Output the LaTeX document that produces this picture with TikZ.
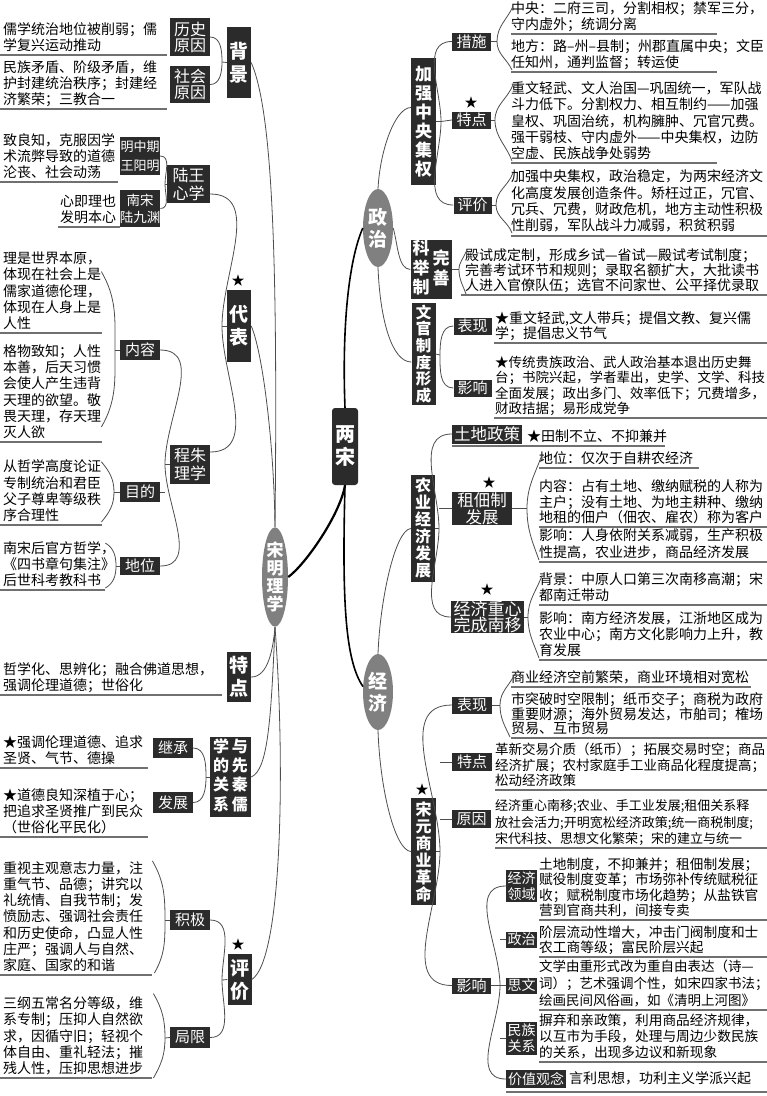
\documentclass[tikz,border=0pt]{standalone}
\usepackage{fontspec}
\setmainfont{Noto Sans CJK SC}
\usepackage{tikz}
\usetikzlibrary{shapes.geometric,positioning}
\definecolor{tagfill}{HTML}{2B2B2B}
\definecolor{ovalfill}{HTML}{808080}
\definecolor{wirecol}{HTML}{4D4D4D}
\definecolor{rulecol}{HTML}{707070}

\begin{document}
\begin{tikzpicture}[x=1pt,y=1pt,
		blk/.style={fill=tagfill, text=white, inner sep=0pt, align=center, font=\fontsize{15}{16}\selectfont},
		bigblk/.style={blk, font=\bfseries\fontsize{19}{23}\selectfont},
		tallblk/.style={blk, font=\bfseries\fontsize{16}{17}\selectfont},
		oval/.style={ellipse, fill=ovalfill, text=white, inner sep=0pt, align=center, font=\bfseries\fontsize{19}{22}\selectfont},
		leaf/.style={anchor=south west, inner sep=0pt, align=left, text depth=4pt, font=\fontsize{14}{16.3}\selectfont},
		starsym/.style={inner sep=0pt, font=\fontsize{13}{13}\selectfont},
		wire/.style={draw=wirecol, line width=.8pt},
		trunk/.style={draw=black, line width=1.6pt},
		uline/.style={draw=rulecol, line width=1.1pt}]
	\useasboundingbox (0,0) rectangle (767,-1096);

	% centre
	\node[blk, rounded corners=3pt, minimum width=26, minimum height=77, font=\bfseries\fontsize{20}{23}\selectfont] at (345,-446.5) (ls) {两\\宋};
	\node[oval, minimum width=30, minimum height=78] at (378,-228) (zz) {政\\治};
	\node[oval, minimum width=30, minimum height=76] at (378,-692) (jj) {经\\济};
	\node[oval, minimum width=26, minimum height=98, font=\bfseries\fontsize{17}{18}\selectfont] at (275,-577) (sm) {宋\\明\\理\\学};

	\draw[trunk] (ls.north) .. controls (342,-330) and (348,-262) .. (zz.west);
	\draw[trunk] (ls.south) .. controls (342,-600) and (345,-660) .. (jj.160);
	\draw[trunk, line width=2.2pt] (ls.south) .. controls (340,-515) and (305,-565) .. (sm.east);

	% song ming lixue
	\node[bigblk, minimum width=24, minimum height=71] at (239,-62.5) (bj) {背\\景};
	\node[blk, minimum width=40, minimum height=38, font=\fontsize{16}{16}\selectfont] at (190,-37) (lsyy) {历史\\原因};
	\node[blk, minimum width=40, minimum height=37, font=\fontsize{16}{16}\selectfont] at (190,-84.5) (shyy) {社会\\原因};
	\coordinate (bjj) at (222,-62);
	\node[leaf] at (3,-55) (lf-ls) {儒学统治地位被削弱；儒\\学复兴运动推动};
	\node[leaf] at (3,-109) (lf-sh) {民族矛盾、阶级矛盾，维\\护封建统治秩序；封建经\\济繁荣；三教合一};

	\node[bigblk, minimum width=24, minimum height=72] at (239,-326) (db) {代\\表};
	\node[starsym] at (238,-281) (st1) {★};
	\node[blk, minimum width=43, minimum height=38, font=\fontsize{16}{18}\selectfont] at (188.5,-184) (lw) {陆王\\心学};
	\node[blk, minimum width=40, minimum height=39, font=\fontsize{16}{18}\selectfont] at (190,-464) (cz) {程朱\\理学};
	\coordinate (dbj) at (222,-326);
	\node[blk, minimum width=40, minimum height=38, font=\fontsize{13}{19}\selectfont] at (140,-156) (wym) {明中期\\王阳明};
	\node[blk, minimum width=40, minimum height=37, font=\fontsize{13.5}{17}\selectfont] at (140,-208.5) (ljy) {南宋\\陆九渊};
	\coordinate (lwj) at (165,-184);
	\node[leaf] at (3,-182) (lf-wym) {致良知，克服因学\\术流弊导致的道德\\沦丧、社会动荡};
	\node[leaf] at (60,-227) (lf-ljy) {心即理也\\发明本心};

	\node[blk, minimum width=40, minimum height=20] at (140,-350) (nr) {内容};
	\node[blk, minimum width=40, minimum height=20] at (140,-492) (md) {目的};
	\node[blk, minimum width=40, minimum height=18] at (140,-566) (dw) {地位};
	\coordinate (czj) at (165,-464);
	\node[leaf] at (3,-333) (lf-nr1) {理是世界本原，\\体现在社会上是\\儒家道德伦理，\\体现在人身上是\\人性};
	\node[leaf] at (3,-442) (lf-nr2) {格物致知；人性\\本善，后天习惯\\会使人产生违背\\天理的欲望。敬\\畏天理，存天理\\灭人欲};
	\node[leaf] at (3,-525) (lf-md) {从哲学高度论证\\专制统治和君臣\\父子尊卑等级秩\\序合理性};
	\node[leaf] at (3,-590) (lf-dw) {南宋后官方哲学，\\《四书章句集注》\\后世科考教科书};
	\coordinate (nrj) at (115,-350);
	\coordinate (mdj) at (114,-492);
	\coordinate (dwj) at (116,-566);

	\node[bigblk, minimum width=24, minimum height=50] at (239,-677) (td) {特\\点};
	\node[leaf] at (3,-695) (lf-td) {哲学化、思辨化；融合佛道思想，\\强调伦理道德；世俗化};

	\node[blk, minimum width=41, minimum height=80, font=\bfseries\fontsize{16}{18.5}\selectfont] at (230.5,-777) (gx)
		{\begin{tabular}{@{}c@{\hspace{3pt}}c@{}}学&与\\的&先\\关&秦\\系&儒\end{tabular}};
	\node[blk, minimum width=40, minimum height=20] at (173,-748) (jc) {继承};
	\node[blk, minimum width=40, minimum height=21] at (173,-802.5) (fz) {发展};
	\coordinate (gxj) at (206,-777);
	\node[leaf] at (3,-768) (lf-jc) {★强调伦理道德、追求\\圣贤、气节、德操};
	\node[leaf] at (3,-837) (lf-fz) {★道德良知深植于心；\\把追求圣贤推广到民众\\（世俗化平民化）};

	\node[bigblk, minimum width=24, minimum height=51] at (239.5,-979.5) (pj) {评\\价};
	\node[starsym] at (238,-945) (st2) {★};
	\node[blk, minimum width=40, minimum height=20] at (190,-920) (jjx) {积极};
	\node[blk, minimum width=40, minimum height=21] at (190,-1037.5) (jx) {局限};
	\coordinate (pjj) at (222,-980);
	\node[leaf] at (3,-975) (lf-jjx) {重视主观意志力量，注\\重气节、品德；讲究以\\礼统情、自我节制；发\\愤励志、强调社会责任\\和历史使命，凸显人性\\庄严；强调人与自然、\\家庭、国家的和谐};
	\node[leaf] at (3,-1078) (lf-jx) {三纲五常名分等级，维\\系专制；压抑人自然欲\\求，因循守旧；轻视个\\体自由、重礼轻法；摧\\残人性，压抑思想进步};
	\coordinate (jjxj) at (165,-920);
	\coordinate (jxj) at (165,-1038);

	\draw[wire] (sm.north) .. controls (278,-250) and (272,-110) .. (bj.east);
	\draw[wire] (sm.north) .. controls (274,-440) and (262,-350) .. (db.east);
	\draw[wire] (sm.south) .. controls (273,-650) and (268,-677) .. (td.east);
	\draw[wire] (sm.south) .. controls (271,-720) and (268,-770) .. (gx.east);
	\draw[wire] (sm.south) .. controls (285,-760) and (283,-960) .. (pj.east);

	\draw[wire] (lsyy.east) to[out=0,in=90] (bjj) to[out=-90,in=0] (shyy.east);
	\draw[wire] (bjj) -- (bj.west);
	\draw[wire] ([yshift=-10pt]lw.east) to[out=0,in=90] (dbj) to[out=-90,in=0] ([yshift=12pt]cz.east);
	\draw[wire] (dbj) -- (db.west);
	\draw[wire] (wym.east) to[out=0,in=90] (lwj) to[out=-90,in=0] (ljy.east);
	\draw[wire] (lwj) -- (lw.west);
	\draw[wire] (nr.east) to[out=0,in=90] (czj) to[out=-90,in=0] (dw.east);
	\draw[wire] (md.east) -- (md.east -| czj);
	\draw[wire] (czj) -- (cz.west);
	\draw[wire] ([yshift=-20pt]lf-nr1.north east) to[out=-60,in=90] (nrj) to[out=-90,in=60] ([yshift=15pt]lf-nr2.south east);
	\draw[wire] (nrj) -- (nr.west);
	\draw[wire] ([yshift=-2pt]lf-md.north east) to[out=-50,in=90] (mdj) to[out=-90,in=50] ([yshift=3pt]lf-md.south east);
	\draw[wire] (mdj) -- (md.west);
	\draw[wire] ([shift={(-10pt,-2pt)}]lf-dw.north east) to[out=-30,in=90] (dwj) to[out=-90,in=30] ([shift={(-10pt,2pt)}]lf-dw.south east);
	\draw[wire] (dwj) -- (dw.west);
	\draw[wire] (jc.east) to[out=0,in=90] (gxj) to[out=-90,in=0] (fz.east);
	\draw[wire] (gxj) -- (gx.west);
	\draw[wire] (jjx.east) to[out=0,in=90] (pjj) to[out=-90,in=0] (jx.east);
	\draw[wire] (pjj) -- (pj.west);
	\draw[wire] ([shift={(9pt,0pt)}]lf-jjx.north east) to[out=-60,in=90] (jjxj) to[out=-90,in=60] ([shift={(11pt,2pt)}]lf-jjx.south east);
	\draw[wire] (jjxj) -- (jjx.west);
	\draw[wire] ([shift={(10pt,3pt)}]lf-jx.north east) to[out=-60,in=90] (jxj) to[out=-90,in=60] ([shift={(10pt,0pt)}]lf-jx.south east);
	\draw[wire] (jxj) -- (jx.west);

	% zhengzhi
	\node[blk, minimum width=25, minimum height=127, font=\bfseries\fontsize{17}{19}\selectfont] at (423.5,-121.5) (jq) {加\\强\\中\\央\\集\\权};
	\node[blk, minimum width=39, minimum height=18] at (471.5,-41.5) (cs) {措施};
	\node[blk, minimum width=39, minimum height=17] at (471.5,-120) (tdz) {特点};
	\node[starsym] at (471,-103) (st3) {★};
	\node[blk, minimum width=38, minimum height=17] at (472.5,-205) (pjz) {评价};
	\coordinate (jqj) at (441,-121.5);
	\node[leaf] at (511,-34) (lf-cs1) {中央：二府三司，分割相权；禁军三分，\\守内虚外；统调分离};
	\node[leaf] at (511,-72) (lf-cs2) {地方：路–州–县制；州郡直属中央；文臣\\任知州，通判监督；转运使};
	\node[leaf] at (511,-163) (lf-td2) {重文轻武、文人治国—巩固统一，军队战\\斗力低下。分割权力、相互制约——加强\\皇权、巩固治统，机构臃肿、冗官冗费。\\强干弱枝、守内虚外——中央集权，边防\\空虚、民族战争处弱势};
	\node[leaf] at (511,-235) (lf-pj2) {加强中央集权，政治稳定，为两宋经济文\\化高度发展创造条件。矫枉过正，冗官、\\冗兵、冗费，财政危机，地方主动性积极\\性削弱，军队战斗力减弱，积贫积弱};
	\coordinate (csj) at (497,-41.5);
	\coordinate (tdzj) at (495,-120);
	\coordinate (pjzj) at (496,-205);

	\node[blk, minimum width=41, minimum height=55, font=\bfseries\fontsize{17}{17}\selectfont] at (431,-269.5) (kj)
		{\begin{tabular}[c]{@{}c@{}}科\\举\\制\end{tabular}\hspace{3pt}\begin{tabular}[c]{@{}c@{}}完\\善\end{tabular}};
	\node[leaf, font=\fontsize{14}{15}\selectfont] at (465,-295) (lf-kj) {殿试成定制，形成乡试—省试—殿试考试制度；\\完善考试环节和规则；录取名额扩大，大批读书\\人进入官僚队伍；选官不问家世、公平择优录取};
	\coordinate (kjj) at (459,-269.5);

	\node[tallblk, minimum width=24, minimum height=102, font=\bfseries\fontsize{15.5}{16.6}\selectfont] at (423.5,-354) (wg) {文\\官\\制\\度\\形\\成};
	\node[blk, minimum width=38, minimum height=17] at (472.5,-326) (wbx) {表现};
	\node[blk, minimum width=38, minimum height=17] at (472.5,-388) (wyx) {影响};
	\coordinate (wgj) at (440,-355);
	\node[leaf, font=\fontsize{14}{15}\selectfont] at (495,-343) (lf-wbx) {★重文轻武,文人带兵；提倡文教、复兴儒\\学；提倡忠义节气};
	\node[leaf, font=\fontsize{13.5}{15.5}\selectfont] at (495,-418) (lf-wyx) {★传统贵族政治、武人政治基本退出历史舞\\台；书院兴起，学者辈出，史学、文学、科技\\全面发展；政出多门、效率低下；冗费增多，\\财政拮据；易形成党争};

	\draw[wire] (zz.north) .. controls (380,-150) and (395,-108) .. ([yshift=14pt]jq.west);
	\draw[wire] (zz.east) .. controls (398,-245) and (398,-269) .. (kj.west);
	\draw[wire] (zz.south) .. controls (380,-320) and (392,-362) .. ([yshift=-8pt]wg.west);

	\draw[wire] (cs.west) to[out=180,in=90] (jqj) to[out=-90,in=180] (pjz.west);
	\draw[wire] (jq.east) -- (jqj) -- (tdz.west);
	\draw[wire] ([shift={(2pt,-5pt)}]lf-cs1.north west) to[out=-115,in=90] (csj) to[out=-90,in=115] ([shift={(1pt,2pt)}]lf-cs2.south west);
	\draw[wire] (cs.east) -- (csj);
	\draw[wire] ([shift={(2pt,-3pt)}]lf-td2.north west) to[out=-110,in=90] (tdzj) to[out=-90,in=110] ([shift={(1pt,2pt)}]lf-td2.south west);
	\draw[wire] (tdz.east) -- (tdzj);
	\draw[wire] ([shift={(2pt,-3pt)}]lf-pj2.north west) to[out=-110,in=90] (pjzj) to[out=-90,in=110] ([shift={(1pt,2pt)}]lf-pj2.south west);
	\draw[wire] (pjz.east) -- (pjzj);
	\draw[wire] ([shift={(1pt,-3pt)}]lf-kj.north west) to[out=-110,in=90] (kjj) to[out=-90,in=110] ([shift={(1pt,1pt)}]lf-kj.south west);
	\draw[wire] (kj.east) -- (kjj);
	\draw[wire] (wbx.west) to[out=180,in=90] (wgj) to[out=-90,in=180] (wyx.west);
	\draw[wire] (wg.east) -- (wgj);

	% jingji
	\node[tallblk, minimum width=24, minimum height=107] at (423,-528.5) (ny) {农\\业\\经\\济\\发\\展};
	\node[blk, minimum width=70, minimum height=19, font=\fontsize{16.5}{17}\selectfont] at (487,-434) (tdzc) {土地政策};
	\node[blk, minimum width=60, minimum height=32, font=\fontsize{16.5}{17}\selectfont] at (482,-508.5) (zd) {租佃制\\发展};
	\node[starsym] at (489,-483) (st4) {★};
	\node[blk, minimum width=73, minimum height=31, font=\fontsize{17}{16}\selectfont] at (487.5,-617) (jzn) {经济重心\\完成南移};
	\node[starsym] at (487,-590) (st5) {★};
	\coordinate (nyj) at (439,-528.5);
	\node[leaf] at (527,-446) (lf-td3) {★田制不立、不抑兼并};
	\node[leaf] at (539,-468) (lf-zd1) {地位：仅次于自耕农经济};
	\node[leaf, font=\fontsize{14}{15.5}\selectfont] at (539,-527) (lf-zd2) {内容：占有土地、缴纳赋税的人称为\\主户；没有土地、为地主耕种、缴纳\\地租的佃户（佃农、雇农）称为客户};
	\node[leaf, font=\fontsize{14}{17.5}\selectfont] at (539,-562) (lf-zd3) {影响：人身依附关系减弱，生产积极\\性提高，农业进步，商品经济发展};
	\coordinate (zdj) at (527,-508.5);
	\node[leaf] at (539,-605) (lf-jz1) {背景：中原人口第三次南移高潮；宋\\都南迁带动};
	\node[leaf] at (539,-660) (lf-jz2) {影响：南方经济发展，江浙地区成为\\农业中心；南方文化影响力上升，教\\育发展};
	\coordinate (jznj) at (528,-617);

	\node[tallblk, minimum width=25, minimum height=107] at (423.5,-851.5) (sy) {宋\\元\\商\\业\\革\\命};
	\node[starsym] at (422,-790) (st6) {★};
	\node[blk, minimum width=40, minimum height=17] at (472,-705) (sbx) {表现};
	\node[blk, minimum width=40, minimum height=18] at (472,-762) (sdx) {特点};
	\node[blk, minimum width=39, minimum height=18] at (471.5,-819) (syy) {原因};
	\node[blk, minimum width=39, minimum height=16] at (471.5,-985.5) (syx) {影响};
	\coordinate (syj) at (440,-851.5);
	\node[leaf] at (511,-687) (lf-sb1) {商业经济空前繁荣，商业环境相对宽松};
	\node[leaf, font=\fontsize{14}{14.5}\selectfont] at (511,-738) (lf-sb2) {市突破时空限制；纸币交子；商税为政府\\重要财源；海外贸易发达，市舶司；榷场\\贸易、互市贸易};
	\coordinate (sbj) at (500,-705);
	\node[leaf, font=\fontsize{13.5}{15.5}\selectfont] at (495,-790) (lf-sd) {革新交易介质（纸币）；拓展交易时空；商品\\经济扩展；农村家庭手工业商品化程度提高；\\松动经济政策};
	\node[leaf, font=\fontsize{13}{16.5}\selectfont] at (495,-848) (lf-syy) {经济重心南移;农业、手工业发展;租佃关系释\\放社会活力;开明宽松经济政策;统一商税制度;\\宋代科技、思想文化繁荣；宋的建立与统一};

	\node[blk, minimum width=31, minimum height=32, font=\fontsize{14}{16}\selectfont] at (521.5,-886) (yjj) {经济\\领域};
	\node[blk, minimum width=31, minimum height=16, font=\fontsize{14}{16}\selectfont] at (521.5,-939.5) (yzz) {政治};
	\node[blk, minimum width=31, minimum height=16, font=\fontsize{14}{16}\selectfont] at (521.5,-985.5) (ysw) {思文};
	\node[blk, minimum width=31, minimum height=33, font=\fontsize{14}{16}\selectfont] at (521.5,-1038.5) (ymz) {民族\\关系};
	\node[blk, minimum width=60, minimum height=18, font=\fontsize{14}{16}\selectfont] at (536,-1079) (yjz) {价值观念};
	\coordinate (yxj) at (500,-985.5);
	\node[leaf, font=\fontsize{13.7}{15.5}\selectfont] at (539,-920) (lf-yj) {土地制度，不抑兼并；租佃制发展；\\赋役制度变革；市场弥补传统赋税征\\收；赋税制度市场化趋势；从盐铁官\\营到官商共利，间接专卖};
	\node[leaf, font=\fontsize{13.7}{15}\selectfont] at (539,-957) (lf-yz) {阶层流动性增大，冲击门阀制度和士\\农工商等级；富民阶层兴起};
	\node[leaf, font=\fontsize{13.5}{17}\selectfont] at (539,-1010) (lf-ys) {文学由重形式改为重自由表达（诗—\\词）；艺术强调个性，如宋四家书法；\\绘画民间风俗画，如《清明上河图》};
	\node[leaf, font=\fontsize{13.7}{16}\selectfont] at (539,-1062) (lf-ym) {摒弃和亲政策，利用商品经济规律，\\以互市为手段，处理与周边少数民族\\的关系，出现多边议和新现象};
	\node[leaf] at (569,-1088) (lf-yv) {言利思想，功利主义学派兴起};

	\draw[wire] (jj.north) .. controls (380,-600) and (395,-530) .. (ny.west);
	\draw[wire] (jj.south) .. controls (380,-790) and (395,-850) .. (sy.west);

	\draw[wire] (tdzc.west) to[out=180,in=90] (nyj) to[out=-90,in=180] (jzn.west);
	\draw[wire] (ny.east) -- (nyj);
	\draw[wire] (zd.west) -- (zd.west -| nyj);
	\draw[wire] ([shift={(3pt,-3pt)}]lf-zd1.north west) to[out=-110,in=90] (zdj) to[out=-90,in=110] ([shift={(0pt,2pt)}]lf-zd3.south west);
	\draw[wire] (zd.east) -- (zdj);
	\draw[wire] ([shift={(3pt,-3pt)}]lf-jz1.north west) to[out=-110,in=90] (jznj) to[out=-90,in=110] ([shift={(0pt,2pt)}]lf-jz2.south west);
	\draw[wire] (jzn.east) -- (jznj);

	\draw[wire] (sbx.west) to[out=180,in=90] (syj) to[out=-90,in=180] (syx.west);
	\draw[wire] (sy.east) -- (syj);
	\draw[wire] (sdx.west) -- (sdx.west -| syj);
	\draw[wire] (syy.west) -- (syy.west -| syj);
	\draw[wire] ([shift={(4pt,-3pt)}]lf-sb1.north west) to[out=-115,in=90] (sbj) to[out=-90,in=115] ([shift={(-1pt,1pt)}]lf-sb2.south west);
	\draw[wire] (sbx.east) -- (sbj);
	\draw[wire] (yjj.west) to[out=180,in=90] (yxj) to[out=-90,in=180] (yjz.west);
	\draw[wire] (syx.east) -- (yxj) -- (ysw.west);
	\draw[wire] (yzz.west) -- (yzz.west -| yxj);
	\draw[wire] (ymz.west) -- (ymz.west -| yxj);

	% underlines
	\foreach \yy/\xa/\xb in {55/0/167, 109/0/167, 182/0/118, 227/58/120, 333/0/102, 442/0/102, 525/0/102, 590/0/105,
			695/0/222, 768/0/148, 837/0/148, 975/0/152, 1078/0/152,
			34/511/717, 72/511/717, 163/511/717, 236/511/767, 295/461/767, 343/494/767, 418/494/767,
			446/452/665, 468/539/699, 527/539/767, 562/539/767, 605/539/767, 660/539/767,
			687/511/751, 738/511/767, 790/495/767, 848/495/767,
			920/539/767, 957/539/767, 1010/539/767, 1062/539/767, 1092/506/767}
		\draw[uline] (\xa,-\yy) -- (\xb,-\yy);
\end{tikzpicture}
\end{document}
